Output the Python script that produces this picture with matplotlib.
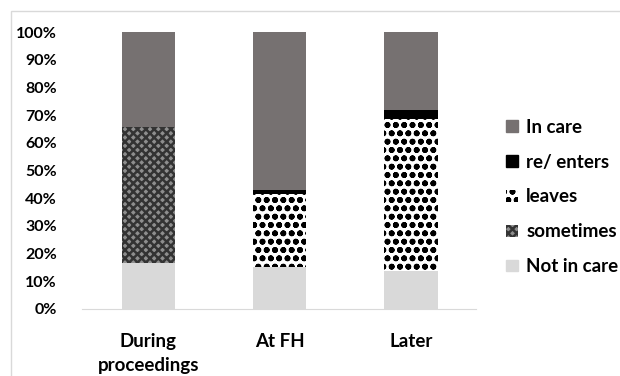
import matplotlib
matplotlib.use("Agg")
import matplotlib.pyplot as plt
import numpy as np
from matplotlib.patches import Patch, Rectangle

plt.rcParams["font.family"] = ["Lato", "DejaVu Sans"]
plt.rcParams["font.weight"] = "bold"
plt.rcParams["hatch.linewidth"] = 1.8

categories = ["During\nproceedings", "At FH", "Later"]
not_in_care = [16.7, 15.0, 13.7]
sometimes = [49.1, 0.0, 0.0]
leaves = [0.0, 26.4, 54.8]
re_enters = [0.0, 1.7, 3.4]
in_care = [34.2, 56.9, 28.1]
yticks = [0, 10, 20, 30, 40, 50, 60, 70, 80, 90, 100]

series = [
    ("Not in care", not_in_care, dict(color="#d9d9d9")),
    ("sometimes", sometimes, dict(facecolor="#8e8e8e", edgecolor="#333333", hatch="xxxx", linewidth=0)),
    ("leaves", leaves, dict(facecolor="white", edgecolor="black", hatch="oo", linewidth=0)),
    ("re/ enters", re_enters, dict(color="black")),
    ("In care", in_care, dict(color="#767171")),
]

fig = plt.figure(figsize=(6.2, 3.76), dpi=100)
fig.patches.append(Rectangle((11 / 620, -0.1), 1.2, 1 - 11 / 376 + 0.1,
                             transform=fig.transFigure, fill=False,
                             edgecolor="#d9d9d9", linewidth=1))
ax = fig.add_axes([82 / 620, 1 - 309 / 376, 394 / 620, 277 / 376])

x = np.arange(len(categories))
bottom = np.zeros(len(categories))
handles = []
for name, vals, style in series:
    vals = np.array(vals)
    ax.bar(x, vals, 0.405, bottom=bottom, **style)
    bottom += vals
    handles.append(Patch(label=name, **style))

ax.set_xlim(-0.505, 2.495)
ax.set_ylim(0, 100)
ax.set_yticks(yticks)
ax.set_yticklabels([f"{t}%" for t in yticks], fontsize=11.5, fontweight="bold")
ax.set_xticks(x)
ax.set_xticklabels(categories, fontsize=13.5, fontweight="bold", linespacing=1.5)
ax.tick_params(length=0)
ax.tick_params(axis="y", pad=18)
ax.tick_params(axis="x", pad=17)
for s in ["top", "right", "left"]:
    ax.spines[s].set_visible(False)
ax.spines["bottom"].set_color("#d9d9d9")

fig.legend(handles=handles[::-1], loc="center left",
           bbox_to_anchor=(497 / 620, 1 - 197 / 376), frameon=False,
           prop={"size": 13.5, "weight": "bold"}, handlelength=0.6,
           handleheight=0.6, handletextpad=0.45, labelspacing=0.95,
           borderpad=0)

fig.savefig("out.png", dpi=100)
